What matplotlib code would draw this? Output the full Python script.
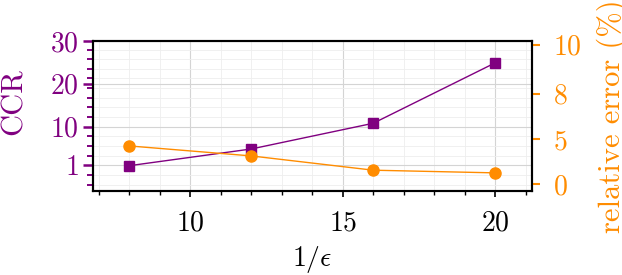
import numpy as np
import matplotlib
matplotlib.use("Agg")
import matplotlib.pyplot as plt
from matplotlib.ticker import AutoMinorLocator, MultipleLocator

plt.rcParams['font.family'] = 'cmr10'
plt.rcParams['mathtext.fontset'] = 'cm'
plt.rcParams['axes.formatter.use_mathtext'] = True

# data
inv_eps = [8, 12, 16, 20]
ccr = [0.9, 4.8, 10.8, 24.9]
rel_err = [4.25, 3.13, 1.53, 1.23]

ccr_ticks = [1, 10, 20, 30]
err_ticks = [0, 5, 8, 10]
# the error axis is not evenly spaced in the source figure
err_nodes = [-5, 0, 5, 8, 10, 20]
err_pos = [-5, 0, 5, 10.1, 15.6, 43.1]

purple = '#800080'
orange = '#ff8c00'

fig = plt.figure(figsize=(6.22, 2.75), dpi=100)
ax = fig.add_axes([0.149, 0.3055, 0.706, 0.5455])

ax.plot(inv_eps, ccr, color=purple, lw=1, marker='s', ms=7.5, zorder=3)
ax.set_xlim(6.8, 21.2)
ax.set_ylim(-5, 30)
ax.xaxis.set_major_locator(MultipleLocator(5))
ax.xaxis.set_minor_locator(AutoMinorLocator())
ax.set_yticks(ccr_ticks)
ax.yaxis.set_minor_locator(AutoMinorLocator())
ax.grid(which='major', color='#d4d4d4', lw=0.8)
ax.grid(which='minor', color='#eeeeee', lw=0.6)
ax.set_axisbelow(True)

ax.tick_params(axis='x', which='major', length=4.5, width=1.2, labelsize=20, pad=9)
ax.tick_params(axis='x', which='minor', length=3, width=1.0)
ax.tick_params(axis='y', which='major', length=7, width=1.8, colors=purple,
               labelsize=20, pad=3)
ax.tick_params(axis='y', which='minor', length=4, width=1.4, colors=purple)
ax.set_xlabel(r'$1/\epsilon$', fontsize=20, labelpad=6)
ax.set_ylabel('CCR', color=purple, fontsize=22)
ax.yaxis.set_label_coords(-0.148, 0.595)

for s in ax.spines.values():
    s.set_linewidth(1.5)

ax2 = ax.twinx()
fwd = lambda v: np.interp(v, err_nodes, err_pos)
inv = lambda v: np.interp(v, err_pos, err_nodes)
ax2.set_yscale('function', functions=(fwd, inv))
ax2.plot(inv_eps, rel_err, color=orange, lw=1, marker='o', ms=8)
ax2.set_ylim(-0.8, 10.15)
ax2.set_yticks(err_ticks)
ax2.tick_params(axis='y', length=6, width=1.5, colors=orange, labelsize=20, pad=9)
ax2.set_ylabel('relative error (%)', color=orange, fontsize=22, labelpad=11)
for s in ax2.spines.values():
    s.set_linewidth(1.5)

fig.savefig('out.png', dpi=100)
